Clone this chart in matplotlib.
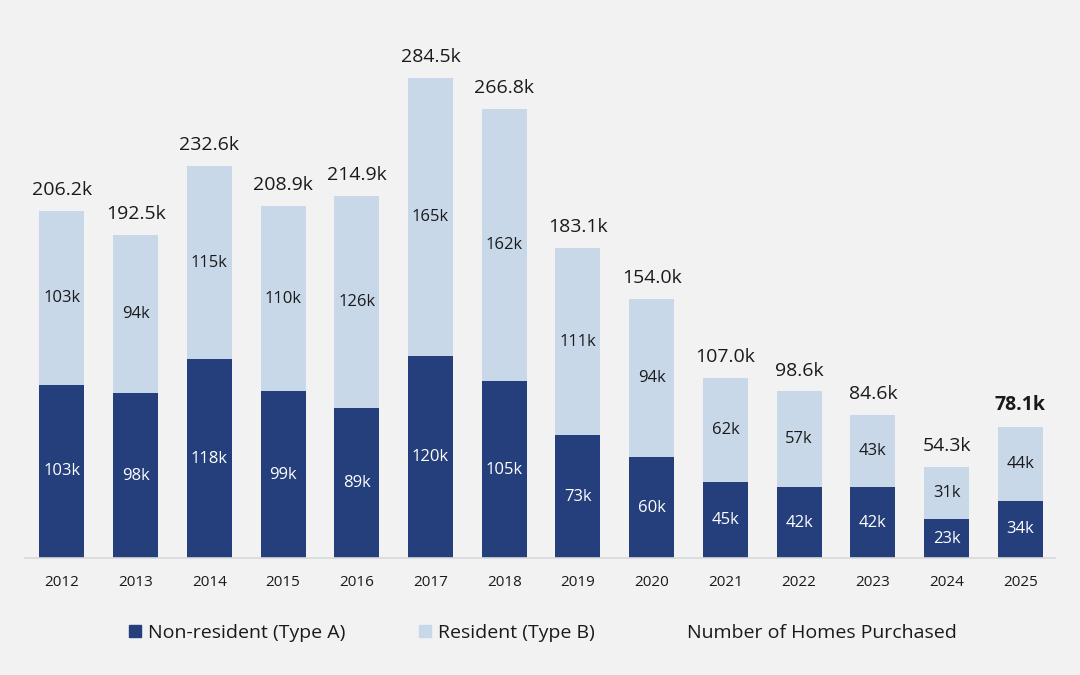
import matplotlib
matplotlib.use("Agg")
import matplotlib.pyplot as plt
from matplotlib.lines import Line2D

years = ["2012", "2013", "2014", "2015", "2016", "2017", "2018",
         "2019", "2020", "2021", "2022", "2023", "2024", "2025"]
non_resident = [103, 98, 118, 99, 89, 120, 105, 73, 60, 45, 42, 42, 23, 34]
resident = [103, 94, 115, 110, 126, 165, 162, 111, 94, 62, 57, 43, 31, 44]
totals = [206.2, 192.5, 232.6, 208.9, 214.9, 284.5, 266.8,
          183.1, 154.0, 107.0, 98.6, 84.6, 54.3, 78.1]

DARK = "#243f7b"
LIGHT = "#c8d8e9"
BG = "#f2f2f2"
TXT = "#1a1a1a"

plt.rcParams["font.family"] = ["Open Sans", "DejaVu Sans"]

fig = plt.figure(figsize=(10.8, 6.75), dpi=100, facecolor=BG)
ax = fig.add_axes([25/1080, 1 - 558/675, 1030/1080, 505/675])
ax.set_facecolor(BG)

x = list(range(len(years)))
w = 0.61
ax.bar(x, non_resident, width=w, color=DARK, label="Non-resident (Type A)", zorder=2)
ax.bar(x, resident, width=w, bottom=non_resident, color=LIGHT,
       label="Resident (Type B)", zorder=2)

for i in x:
    ax.text(i, non_resident[i] / 2, f"{non_resident[i]}k", ha="center", va="center",
            color="white", fontsize=12)
    ax.text(i, non_resident[i] + resident[i] / 2, f"{resident[i]}k", ha="center",
            va="center", color=TXT, fontsize=12)
    top = non_resident[i] + resident[i]
    ax.text(i, top + 7, f"{totals[i]:.1f}k", ha="center", va="bottom", color=TXT,
            fontsize=14, fontweight="bold" if i == len(years) - 1 else "normal")

ax.set_xlim(-0.5, 13.47)
ax.set_ylim(0, 300)
ax.set_xticks(x)
ax.set_xticklabels(years, fontsize=11, color=TXT)
ax.tick_params(axis="x", length=0, pad=12)
ax.set_yticks([])
for s in ["top", "right", "left"]:
    ax.spines[s].set_visible(False)
ax.spines["bottom"].set_color("#d9d9d9")
ax.spines["bottom"].set_linewidth(1.2)

handles = [
    Line2D([], [], marker="s", linestyle="none", markersize=8, color=DARK),
    Line2D([], [], marker="s", linestyle="none", markersize=8, color=LIGHT),
    Line2D([], [], linestyle="none"),
]
labels = ["Non-resident (Type A)", "Resident (Type B)", "Number of Homes Purchased"]
fig.legend(handles, labels, loc="center", bbox_to_anchor=(0.503, 1 - 633/675),
           ncol=3, frameon=False, fontsize=14, handlelength=0.6, handletextpad=0.35,
           columnspacing=3.8, labelcolor=TXT)

fig.savefig("out.png", dpi=100, facecolor=BG)
